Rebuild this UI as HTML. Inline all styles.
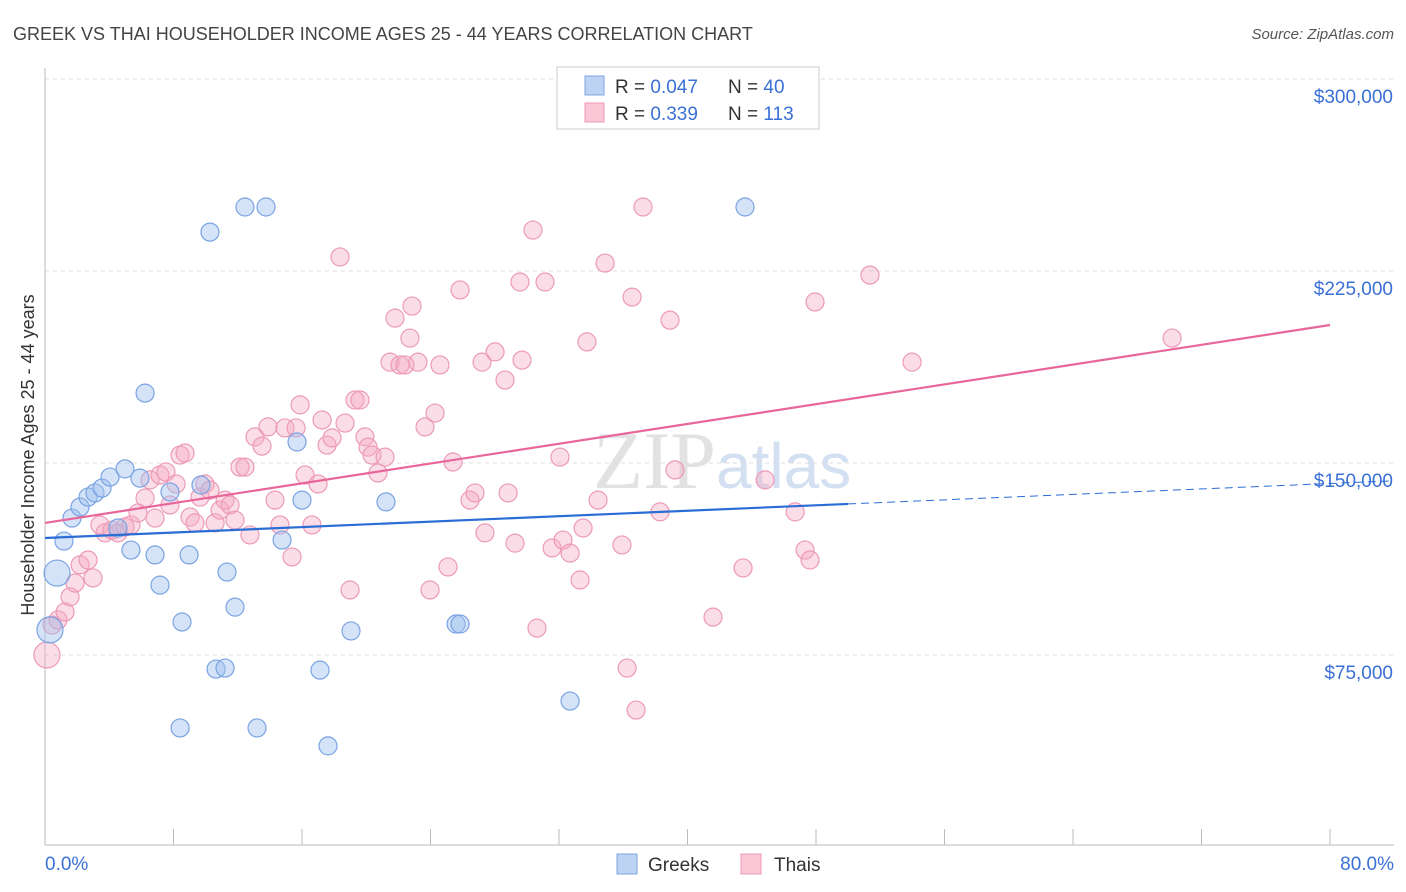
<!DOCTYPE html>
<html><head><meta charset="utf-8"><style>
body{margin:0;background:#fff;font-family:"Liberation Sans",sans-serif}
#wrap{position:relative;width:1406px;height:892px;overflow:hidden}
</style></head><body>
<div id="wrap">
<svg id="svg" width="1406" height="892" xmlns="http://www.w3.org/2000/svg">
<text x="13" y="40" font-size="18" fill="#444">GREEK VS THAI HOUSEHOLDER INCOME AGES 25 - 44 YEARS CORRELATION CHART</text>
<text x="1394" y="39" font-size="15" fill="#555" font-style="italic" text-anchor="end">Source: ZipAtlas.com</text>
<text x="716" y="488" font-size="82" fill="#e2e2e2" text-anchor="end" font-family="Liberation Serif, serif">ZIP</text>
<text x="716" y="488" font-size="64" fill="#d3e0f1">atlas</text>
<g id="grid"></g><g id="pts"></g><g id="lines"></g>
<text transform="translate(34,455) rotate(-90)" font-size="18" fill="#333" text-anchor="middle">Householder Income Ages 25 - 44 years</text>
<g>
<rect x="557" y="67" width="262" height="62" fill="#fff" stroke="#ccc"/>
<rect x="585" y="76" width="19" height="19" fill="#bcd3f3" stroke="#7fa6e2"/>
<rect x="585" y="103" width="19" height="19" fill="#f9c6d6" stroke="#ee9ab6"/>
<text x="615" y="93" font-size="19" fill="#333">R = <tspan fill="#3a70d6">0.047</tspan><tspan x="728">N = </tspan><tspan fill="#3a70d6">40</tspan></text>
<text x="615" y="120" font-size="19" fill="#333">R = <tspan fill="#3a70d6"> 0.339</tspan><tspan x="728">N = </tspan><tspan fill="#3a70d6">113</tspan></text>
</g>
<g>
<rect x="617" y="854" width="20" height="20" fill="#bcd3f3" stroke="#7fa6e2"/>
<text x="648" y="871" font-size="19" fill="#333">Greeks</text>
<rect x="741" y="854" width="20" height="20" fill="#f9c6d6" stroke="#ee9ab6"/>
<text x="774" y="871" font-size="19" fill="#333">Thais</text>
</g>
</svg></div>
<script>
const xTicksPct=[0,80];
const yTicks=[75,150,225,300];
const greekX=[0.75,0.31,1.18,1.68,2.18,2.68,3.11,3.55,4.05,4.98,5.91,6.23,4.54,5.35,6.85,7.16,7.78,8.53,8.97,9.71,10.27,10.65,11.21,11.33,11.83,12.45,13.20,13.76,8.41,14.76,15.69,16.00,17.12,17.62,19.05,21.23,25.59,25.84,32.69,43.58];
const greekY=[107.0,84.8,119.5,128.5,132.8,136.7,138.3,140.2,144.5,147.7,144.1,177.3,124.6,116.0,114.1,102.3,138.7,87.9,114.1,141.4,240.2,69.5,69.9,107.4,93.7,250.0,46.5,250.0,46.5,119.9,158.2,135.5,69.1,39.5,84.4,134.8,87.1,87.1,57.0,250.0];
const thaiX=[0.12,0.44,0.81,1.25,1.56,1.87,2.18,2.68,2.99,3.42,3.74,4.17,4.54,4.98,5.35,5.79,6.23,6.54,6.85,7.16,7.53,7.78,8.16,8.41,8.72,9.03,9.34,9.65,9.96,10.27,10.59,10.90,11.21,11.52,11.83,12.14,12.45,12.76,13.07,13.51,13.88,14.32,14.63,14.94,15.38,15.63,15.88,16.19,16.62,17.00,17.25,17.56,17.87,18.37,18.68,18.99,19.30,19.61,19.92,20.11,20.36,20.73,21.17,21.48,21.79,22.10,22.41,22.72,22.85,23.22,23.66,23.97,24.28,24.59,25.09,25.40,25.84,26.46,26.77,27.21,27.39,28.02,28.64,28.83,29.26,29.57,29.70,30.38,30.63,31.13,31.57,32.06,32.25,32.69,33.31,33.50,33.74,34.43,34.87,35.92,36.24,36.55,36.80,37.23,38.29,38.91,39.22,41.59,43.46,44.83,46.70,47.32,47.63,47.94,51.36,53.98,70.17];
const thaiY=[75.0,86.7,88.7,91.8,97.7,103.1,110.2,112.1,105.1,125.8,122.7,123.8,122.7,125.0,125.8,130.5,136.3,143.4,128.5,145.3,146.5,133.6,141.8,153.1,153.9,128.9,126.6,136.7,141.8,139.4,126.6,131.6,135.5,133.6,127.7,148.4,148.4,121.9,160.2,156.6,164.1,135.5,125.8,163.7,113.3,163.7,172.7,145.3,125.8,141.8,166.8,157.0,159.8,230.5,165.6,100.4,174.6,174.6,160.2,156.2,153.1,146.1,152.3,189.4,206.6,188.3,188.3,198.8,211.3,189.4,164.1,100.4,169.5,188.3,109.4,150.4,217.6,135.5,138.3,189.4,122.7,193.4,182.4,138.3,118.7,220.7,190.2,241.0,85.5,220.7,116.8,152.3,119.9,114.8,104.3,124.6,197.3,135.5,228.1,118.0,69.9,214.8,53.5,250.0,130.9,205.8,147.3,89.8,109.0,143.4,130.9,116.0,112.1,212.9,223.4,189.4,198.8];
const greekBig=[0,1];
const thaiBig=[0];
const greekLine=[120.7,142.0];
const thaiLine=[126.6,203.9];
const greekSolidEnd=50.0;
const NS="http://www.w3.org/2000/svg";
const X=v=>45+v/80*1285;
const Y=v=>655-(v-75)/75*192;
function mk(t,a,p){const e=document.createElementNS(NS,t);for(const k in a)e.setAttribute(k,a[k]);p.appendChild(e);return e;}
const grid=document.getElementById('grid');
yTicks.forEach(t=>{
 const l=mk('line',{x1:45,x2:1394,y1:Y(t),y2:Y(t),stroke:'#ddd','stroke-dasharray':'4,4'},grid);
 
 
 const tx=mk('text',{x:1393,y:Y(t)+24,'font-size':19,fill:'#3a70d6','text-anchor':'end'},grid);
 tx.textContent='$'+(t*1000).toLocaleString('en-US');
 
 
});
mk('line',{x1:45,x2:45,y1:68,y2:845,stroke:'#bbb'},grid);
mk('line',{x1:45,x2:1394,y1:845,y2:845,stroke:'#bbb'},grid);
for(let i=0;i<=10;i++){const x=X(i*8);mk('line',{x1:x,x2:x,y1:829,y2:845,stroke:'#bbb'},grid);}
xTicksPct.forEach((t,i)=>{
 const tx=mk('text',{x:i?1394:45,y:870,'font-size':19,fill:'#3a70d6','text-anchor':i?'end':'start'},grid);
 tx.textContent=t.toFixed(1)+'%';
 
 
});
const pts=document.getElementById('pts');
thaiX.forEach((v,i)=>{
 const c=mk('circle',{cx:X(v),cy:Y(thaiY[i]),r:thaiBig.includes(i)?13:9,fill:'rgba(245,170,196,0.4)',stroke:'#ec9ab7','stroke-width':1.2},pts);
 
 
});
greekX.forEach((v,i)=>{
 const c=mk('circle',{cx:X(v),cy:Y(greekY[i]),r:greekBig.includes(i)?13:9,fill:'rgba(160,194,240,0.45)',stroke:'#7aa3e2','stroke-width':1.2},pts);
 
 
});
const lines=document.getElementById('lines');
const gy=p=>greekLine[0]+(greekLine[1]-greekLine[0])*p/80;
let l1=mk('line',{x1:X(0),y1:Y(gy(0)),x2:X(greekSolidEnd),y2:Y(gy(greekSolidEnd)),stroke:'#2a6dd4','stroke-width':2.2},lines);


let l2=mk('line',{x1:X(greekSolidEnd),y1:Y(gy(greekSolidEnd)),x2:1390,y2:Y(gy((1390-45)/1285*80)),stroke:'#2a6dd4','stroke-width':1,'stroke-dasharray':'8,5'},lines);


let l3=mk('line',{x1:X(0),y1:Y(thaiLine[0]),x2:X(80),y2:Y(thaiLine[1]),stroke:'#e8679a','stroke-width':2.2},lines);


</script>
</body></html>
